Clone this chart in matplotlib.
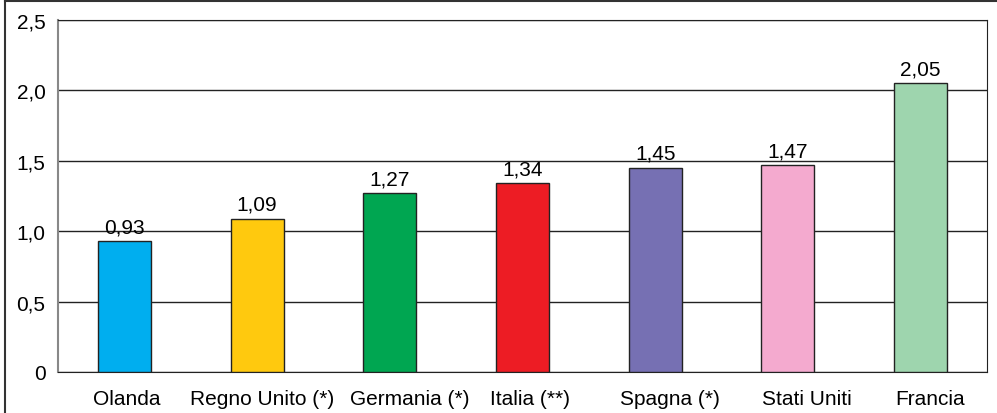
import matplotlib.pyplot as plt
import matplotlib.transforms as mtransforms
from matplotlib.lines import Line2D

countries = ["Olanda", "Regno Unito (*)", "Germania (*)", "Italia (**)",
             "Spagna (*)", "Stati Uniti", "Francia"]
values = [0.93, 1.09, 1.27, 1.34, 1.45, 1.47, 2.05]
colors = ["#00AEEF", "#FFC90E", "#00A651", "#ED1C24", "#7670B3", "#F4AACF", "#9ED5AE"]
yticks = [0, 0.5, 1.0, 1.5, 2.0, 2.5]
ytick_labels = ["0", "0,5", "1,0", "1,5", "2,0", "2,5"]

# the category labels in the original sit a little right of the bar centres (pixels)
label_shift = [2, 5, 20, 7, 15, 19, 9]

plt.rcParams["font.family"] = ["Liberation Sans", "DejaVu Sans"]
FS = 15

fig = plt.figure(figsize=(9.97, 4.14), dpi=100)
ax = fig.add_axes([58 / 997, 1 - 373 / 414, 929 / 997, 352 / 414])

x = range(len(countries))
ax.bar(x, values, width=0.4, color=colors, edgecolor="#222222", linewidth=1, zorder=3)
for xi, v in zip(x, values):
    ax.text(xi, v + 0.035, f"{v:.2f}".replace(".", ","), ha="center", va="bottom", fontsize=FS)

ax.set_xlim(-0.5, len(countries) - 0.5)
ax.set_ylim(0, 2.5)
ax.set_yticks(yticks)
ax.set_yticklabels(ytick_labels, fontsize=FS)
ax.set_xticks(list(x))
ax.set_xticklabels(countries, fontsize=FS)
ax.tick_params(length=0, pad=9)
ax.tick_params(axis="x", pad=12)
for lab, dx in zip(ax.get_xticklabels(), label_shift):
    lab.set_transform(lab.get_transform() +
                      mtransforms.ScaledTranslation(dx / 100, 0, fig.dpi_scale_trans))
ax.yaxis.grid(True, color="#222222", linewidth=1)
ax.set_axisbelow(True)
for side in ["top", "right", "bottom"]:
    ax.spines[side].set_color("#222222")
ax.spines["left"].set_color("#888888")
ax.spines["left"].set_linewidth(1.5)

# outer frame (only top and left visible)
fig.add_artist(Line2D([5 / 997, 5 / 997], [0, 1 - 2 / 414], transform=fig.transFigure,
                      color="#333333", linewidth=1.5))
fig.add_artist(Line2D([5 / 997, 1], [1 - 2 / 414, 1 - 2 / 414], transform=fig.transFigure,
                      color="#333333", linewidth=1.5))

fig.savefig("out.png", dpi=100)
